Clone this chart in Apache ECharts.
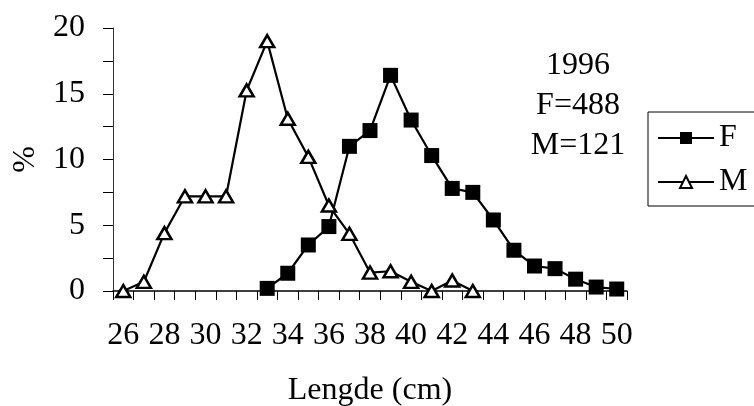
<!DOCTYPE html>
<html>
<head>
<meta charset="utf-8">
<script src="https://cdn.jsdelivr.net/npm/echarts@6/dist/echarts.min.js"></script>
<style>
  html, body { margin: 0; padding: 0; background: #fff; }
  #chart { width: 754px; height: 406px; }
</style>
</head>
<body>
<div id="chart"></div>
<script>
// lengths (cm)
const lengths = ['26','27','28','29','30','31','32','33','34','35','36','37','38',
  '39','40','41','42','43','44','45','46','47','48','49','50'];
// % per length class
const femaleF = ['-','-','-','-','-','-','-',0.2,1.35,3.5,4.9,11.0,12.2,
  16.4,13.0,10.3,7.8,7.5,5.4,3.1,1.9,1.7,0.9,0.3,0.15];
const maleM = [0,0.7,4.4,7.2,7.2,7.2,15.25,19.0,13.1,10.2,6.5,4.35,1.4,
  1.5,0.7,0,0.8,0,'-','-','-','-','-','-','-'];
const yTicks = { min: 0, max: 20, step: 5 };
const note = ['1996', 'F=488', 'M=121'];

const serif = '"Liberation Serif", "DejaVu Serif", serif';
const fs = 32;
const chart = echarts.init(document.getElementById('chart'));

chart.setOption({
  animation: false,
  backgroundColor: '#fff',
  grid: { left: 113, right: 127, top: 28, bottom: 115, outerBoundsMode: 'none' },
  legend: {
    orient: 'vertical',
    left: 648,
    top: 112,
    padding: [10, 40, 8, 9],
    borderColor: '#000',
    borderWidth: 1,
    itemWidth: 56,
    itemHeight: 15,
    itemGap: 12,
    textStyle: { fontFamily: serif, fontSize: fs, color: '#000' },
    data: ['F', 'M']
  },
  xAxis: {
    type: 'category',
    data: lengths,
    boundaryGap: true,
    name: 'Lengde (cm)',
    nameLocation: 'middle',
    nameGap: 84,
    nameTextStyle: { fontFamily: serif, fontSize: fs, color: '#000' },
    axisLine: { lineStyle: { color: '#000', width: 1.5 } },
    axisTick: { show: true, interval: 0, alignWithLabel: false, length: 9, lineStyle: { color: '#000' } },
    axisLabel: { interval: 1, margin: 29, fontFamily: serif, fontSize: fs, color: '#000' },
    splitLine: { show: false }
  },
  yAxis: {
    type: 'value',
    min: yTicks.min,
    max: yTicks.max,
    interval: yTicks.step,
    name: '%',
    nameLocation: 'middle',
    nameGap: 71,
    nameRotate: 90,
    nameTextStyle: { fontFamily: serif, fontSize: fs, color: '#000' },
    axisLine: { show: true, lineStyle: { color: '#333', width: 1 } },
    axisTick: { show: true, length: 10, lineStyle: { color: '#000' } },
    minorTick: { show: true, splitNumber: 2, length: 10, lineStyle: { color: '#000' } },
    axisLabel: { margin: 28, fontFamily: serif, fontSize: fs, color: '#000' },
    splitLine: { show: false }
  },
  graphic: [{
    type: 'text',
    x: 578,
    y: 46,
    style: {
      text: note.join('\n'),
      align: 'center',
      verticalAlign: 'top',
      lineHeight: 40,
      font: fs + 'px ' + serif,
      fill: '#000'
    }
  }],
  series: [{
    name: 'F',
    type: 'line',
    data: femaleF,
    symbol: 'rect',
    symbolSize: 15,
    showAllSymbol: true,
    lineStyle: { color: '#000', width: 2.2 },
    itemStyle: { color: '#000', borderColor: '#000', borderWidth: 0 },
    z: 3
  }, {
    name: 'M',
    type: 'line',
    data: maleM,
    symbol: 'triangle',
    symbolSize: [14, 12],
    showAllSymbol: true,
    lineStyle: { color: '#000', width: 2.2 },
    itemStyle: { color: '#fff', borderColor: '#000', borderWidth: 2.5 },
    z: 4
  }]
});
</script>
</body>
</html>
